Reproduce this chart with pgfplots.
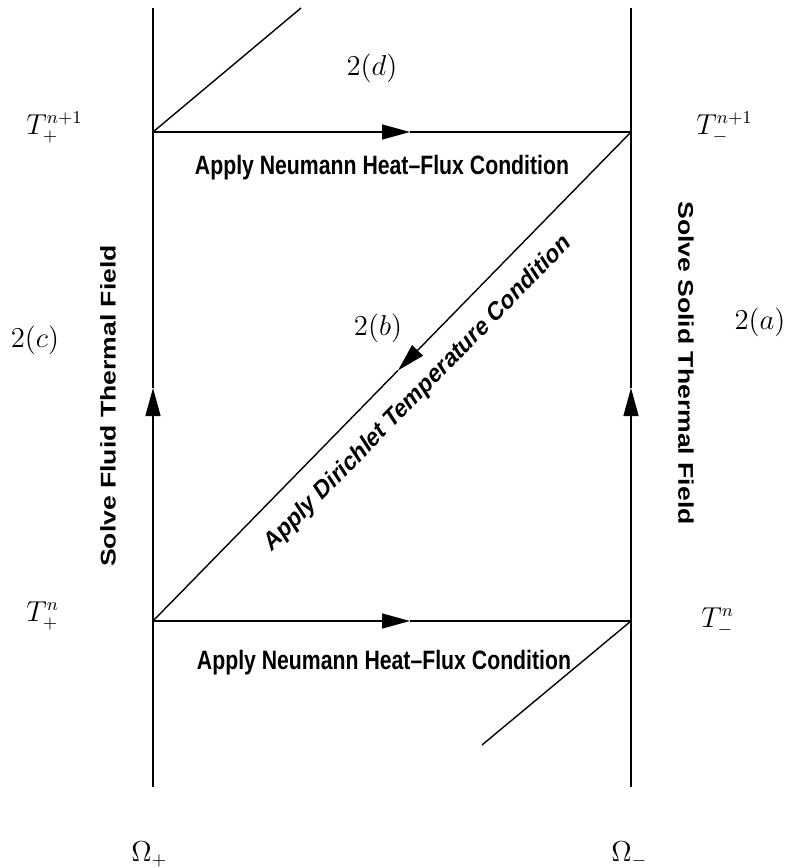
\documentclass[border=0pt]{standalone}
\usepackage{pgfplots}
\pgfplotsset{compat=1.18}
\usepackage{graphicx}
\usepackage{fontspec}
\usetikzlibrary{arrows.meta}
\newfontfamily\labelfont{Liberation Sans}

% bold sans labels, drawn with the figure's slight horizontal squeeze
\newcommand{\lbl}[1]{{\fontsize{12}{14}\selectfont\labelfont\bfseries #1}}
\newcommand{\sq}[1]{\scalebox{0.885}[1.107]{#1}}
\newcommand{\mlbl}[1]{{\fontsize{13.5}{16}\selectfont $#1$}}

\begin{document}
\begin{tikzpicture}
\begin{axis}[
  scale only axis, width=393pt, height=434pt,
  xmin=0, xmax=786, ymin=0, ymax=868, y dir=reverse,
  hide axis, clip=false,
  ln/.style={black, line width=0.7pt, no markers},
  arr/.style={ln, -{Triangle[length=14pt, width=7.5pt]}},
]
\path (axis cs:0,0) rectangle (axis cs:786,868);

% domain boundaries (time axes of the two sub-domains)
\addplot[arr] coordinates {(153,787) (153,388)};
\addplot[ln]  coordinates {(153,388) (153,8)};
\addplot[arr] coordinates {(631,787) (631,388)};
\addplot[ln]  coordinates {(631,388) (631,8)};

% Neumann transfers
\addplot[arr] coordinates {(153,132) (410,132)};
\addplot[ln]  coordinates {(410,132) (631,132)};
\addplot[arr] coordinates {(153,621) (410,621)};
\addplot[ln]  coordinates {(410,621) (631,621)};

% Dirichlet transfer
\addplot[arr] coordinates {(631,132) (398,370.4)};
\addplot[ln]  coordinates {(398,370.4) (153,621)};

% partial diagonals
\addplot[ln] coordinates {(153,132) (301,8)};
\addplot[ln] coordinates {(482,745) (631,621)};

% step labels
\node[inner sep=0, anchor=base] at (axis cs:382,174) {\sq{\lbl{Apply Neumann Heat\textendash Flux Condition}}};
\node[inner sep=0, anchor=base] at (axis cs:384,669) {\sq{\lbl{Apply Neumann Heat\textendash Flux Condition}}};
\node[inner sep=0] at (axis cs:108,406) {\sq{\rotatebox{90}{\lbl{Solve Fluid Thermal Field}}}};
\node[inner sep=0] at (axis cs:686,363) {\sq{\rotatebox{-90}{\lbl{Solve Solid Thermal Field}}}};
\node[inner sep=0] at (axis cs:418,394) {\sq{\rotatebox{39.3}{\lbl{Apply Dirichlet Temperature Condition}}}};

% temperatures and domains
\node[inner sep=0, anchor=base west] at (axis cs:26,134) {\mlbl{T_{+}^{n+1}}};
\node[inner sep=0, anchor=base west] at (axis cs:696,134) {\mlbl{T_{-}^{n+1}}};
\node[inner sep=0, anchor=base west] at (axis cs:26,621) {\mlbl{T_{+}^{n}}};
\node[inner sep=0, anchor=base west] at (axis cs:701,627) {\mlbl{T_{-}^{n}}};
\node[inner sep=0, anchor=base west] at (axis cs:131,861) {\mlbl{\Omega_{+}}};
\node[inner sep=0, anchor=base west] at (axis cs:611,861) {\mlbl{\Omega_{-}}};

% sub-step numbers
\node[inner sep=0] at (axis cs:372,68) {\mlbl{2(d)}};
\node[inner sep=0] at (axis cs:378,328) {\mlbl{2(b)}};
\node[inner sep=0] at (axis cs:35,340) {\mlbl{2(c)}};
\node[inner sep=0] at (axis cs:760,322) {\mlbl{2(a)}};
\end{axis}
\end{tikzpicture}
\end{document}
